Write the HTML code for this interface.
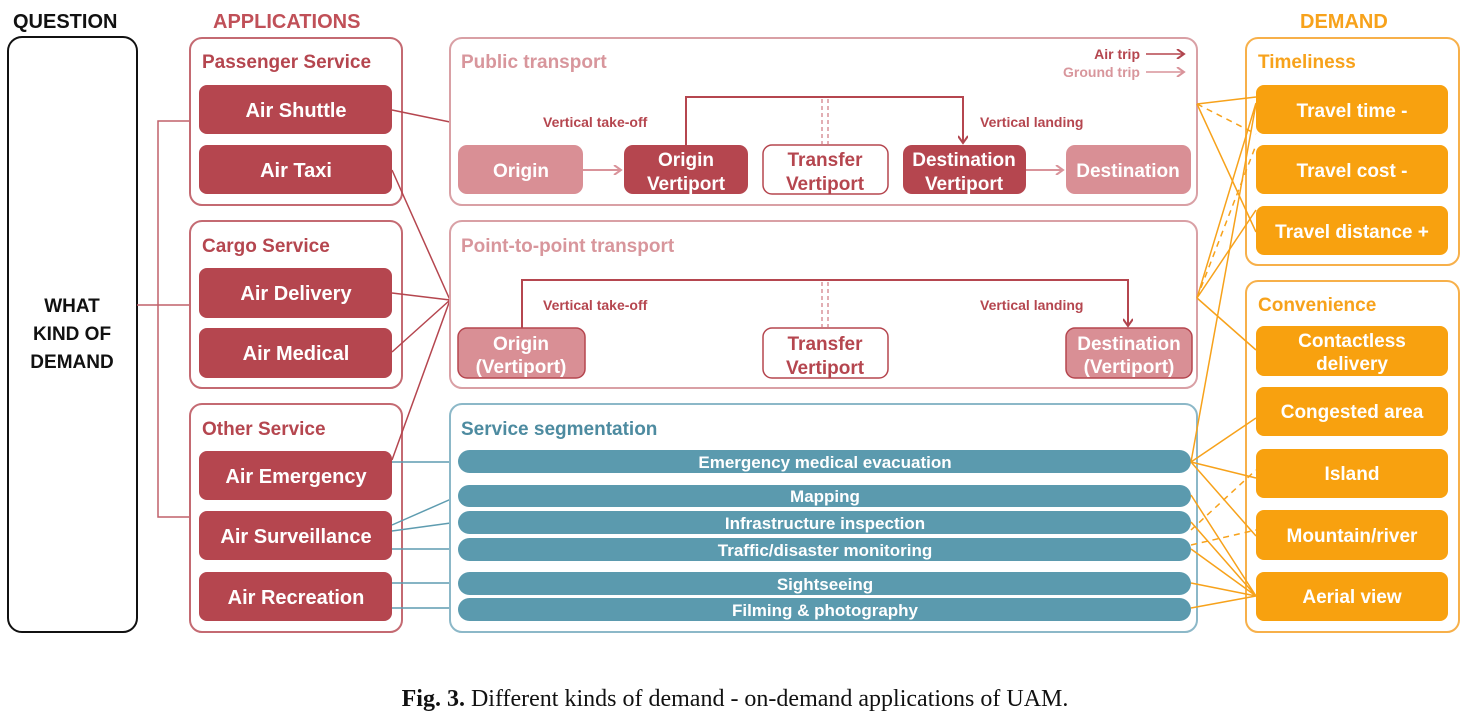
<!DOCTYPE html>
<html><head><meta charset="utf-8"><style>
html,body{margin:0;padding:0;background:#fff;}
svg{display:block;}
text{font-family:"Liberation Sans",sans-serif;font-weight:bold;}
</style></head><body>
<svg width="1471" height="720" viewBox="0 0 1471 720" xmlns="http://www.w3.org/2000/svg">
<defs>
<marker id="ad" markerWidth="10" markerHeight="10" refX="8" refY="5" orient="auto" markerUnits="userSpaceOnUse"><path d="M1,0 L8,5 L1,10" fill="none" stroke="#b0454e" stroke-width="2"/></marker>
<marker id="al" markerWidth="10" markerHeight="10" refX="8" refY="5" orient="auto" markerUnits="userSpaceOnUse"><path d="M1,0 L8,5 L1,10" fill="none" stroke="#d9939a" stroke-width="2"/></marker>
</defs>
<!-- headers -->
<text x="13" y="28" font-size="20" fill="#111">QUESTION</text>
<text x="213" y="28" font-size="20" fill="#c05058">APPLICATIONS</text>
<text x="1300" y="28" font-size="20" fill="#f7a21b">DEMAND</text>

<!-- question box -->
<rect x="8" y="37" width="129" height="595" rx="14" fill="#fff" stroke="#111" stroke-width="2"/>
<text x="72" y="312" font-size="19" fill="#111" text-anchor="middle">WHAT</text>
<text x="72" y="340" font-size="19" fill="#111" text-anchor="middle">KIND OF</text>
<text x="72" y="368" font-size="19" fill="#111" text-anchor="middle">DEMAND</text>

<!-- bracket -->
<g stroke="#c0606a" stroke-width="1.5" fill="none">
<path d="M190,121 H158 V517 H190 M137,305 H190"/>
</g>

<!-- application boxes -->
<g fill="#fff" stroke="#c46a72" stroke-width="2">
<rect x="190" y="38" width="212" height="167" rx="12"/>
<rect x="190" y="221" width="212" height="167" rx="12"/>
<rect x="190" y="404" width="212" height="228" rx="12"/>
</g>
<g font-size="19" fill="#b5464f">
<text x="202" y="68">Passenger Service</text>
<text x="202" y="252">Cargo Service</text>
<text x="202" y="435">Other Service</text>
</g>
<g fill="#b5464f">
<rect x="199" y="85" width="193" height="49" rx="8"/>
<rect x="199" y="145" width="193" height="49" rx="8"/>
<rect x="199" y="268" width="193" height="50" rx="8"/>
<rect x="199" y="328" width="193" height="50" rx="8"/>
<rect x="199" y="451" width="193" height="49" rx="8"/>
<rect x="199" y="511" width="193" height="49" rx="8"/>
<rect x="199" y="572" width="193" height="49" rx="8"/>
</g>
<g font-size="20" fill="#fff" text-anchor="middle">
<text x="296" y="117">Air Shuttle</text>
<text x="296" y="177">Air Taxi</text>
<text x="296" y="300">Air Delivery</text>
<text x="296" y="360">Air Medical</text>
<text x="296" y="483">Air Emergency</text>
<text x="296" y="543">Air Surveillance</text>
<text x="296" y="604">Air Recreation</text>
</g>

<!-- red connectors -->
<g stroke="#b5464f" stroke-width="1.5" fill="none">
<path d="M392,110 L450,122"/>
<path d="M392,170 L450,300 M392,293 L450,300 M392,352 L450,300 M392,460 L450,300"/>
</g>
<!-- teal connectors -->
<g stroke="#5e9cb0" stroke-width="1.5" fill="none">
<path d="M392,462 H458 M392,525 L458,496 M392,531 L458,522 M392,549 H458 M392,583 H458 M392,608 H458"/>
</g>

<!-- public transport -->
<rect x="450" y="38" width="747" height="167" rx="12" fill="#fff" stroke="#d9a0a5" stroke-width="2"/>
<text x="461" y="68" font-size="19" fill="#d8969c">Public transport</text>
<text x="1140" y="59" font-size="14" fill="#b5464f" text-anchor="end">Air trip</text>
<text x="1140" y="77" font-size="14" fill="#d8969c" text-anchor="end">Ground trip</text>
<path d="M1146,54 H1184" stroke="#b5464f" stroke-width="1.5" marker-end="url(#ad)"/>
<path d="M1146,72 H1184" stroke="#d9939a" stroke-width="1.5" marker-end="url(#al)"/>

<rect x="458" y="145" width="125" height="49" rx="9" fill="#d98f95"/>
<rect x="624" y="145" width="124" height="49" rx="9" fill="#b5464f"/>
<rect x="763" y="145" width="125" height="49" rx="9" fill="#fff" stroke="#b5464f" stroke-width="1.5"/>
<rect x="903" y="145" width="123" height="49" rx="9" fill="#b5464f"/>
<rect x="1066" y="145" width="125" height="49" rx="9" fill="#d98f95"/>
<g font-size="19" text-anchor="middle">
<text x="521" y="177" fill="#fff">Origin</text>
<text x="686" y="166" fill="#fff">Origin</text><text x="686" y="190" fill="#fff">Vertiport</text>
<text x="825" y="166" fill="#b5464f">Transfer</text><text x="825" y="190" fill="#b5464f">Vertiport</text>
<text x="964" y="166" fill="#fff">Destination</text><text x="964" y="190" fill="#fff">Vertiport</text>
<text x="1128" y="177" fill="#fff">Destination</text>
</g>
<path d="M583,170 H621" stroke="#d9939a" stroke-width="2" marker-end="url(#al)"/>
<path d="M1026,170 H1063" stroke="#d9939a" stroke-width="2" marker-end="url(#al)"/>
<path d="M686,145 V97 H963 V143" stroke="#b5464f" stroke-width="2" fill="none" marker-end="url(#ad)"/>
<path d="M822,99 V144 M828,99 V144" stroke="#d9939a" stroke-width="1.5" stroke-dasharray="4,3"/>
<g font-size="14" fill="#b5464f">
<text x="543" y="127">Vertical take-off</text>
<text x="980" y="127">Vertical landing</text>
</g>

<!-- point to point -->
<rect x="450" y="221" width="747" height="167" rx="12" fill="#fff" stroke="#d9a0a5" stroke-width="2"/>
<text x="461" y="252" font-size="19" fill="#d8969c">Point-to-point transport</text>
<rect x="458" y="328" width="127" height="50" rx="9" fill="#d98f95" stroke="#b5464f" stroke-width="1.5"/>
<rect x="763" y="328" width="125" height="50" rx="9" fill="#fff" stroke="#b5464f" stroke-width="1.5"/>
<rect x="1066" y="328" width="126" height="50" rx="9" fill="#d98f95" stroke="#b5464f" stroke-width="1.5"/>
<g font-size="19" text-anchor="middle">
<text x="521" y="350" fill="#fff">Origin</text><text x="521" y="373" fill="#fff">(Vertiport)</text>
<text x="825" y="350" fill="#b5464f">Transfer</text><text x="825" y="374" fill="#b5464f">Vertiport</text>
<text x="1129" y="350" fill="#fff">Destination</text><text x="1129" y="373" fill="#fff">(Vertiport)</text>
</g>
<path d="M522,328 V280 H1128 V326" stroke="#b5464f" stroke-width="2" fill="none" marker-end="url(#ad)"/>
<path d="M822,282 V327 M828,282 V327" stroke="#d9939a" stroke-width="1.5" stroke-dasharray="4,3"/>
<g font-size="14" fill="#b5464f">
<text x="543" y="310">Vertical take-off</text>
<text x="980" y="310">Vertical landing</text>
</g>

<!-- service segmentation -->
<rect x="450" y="404" width="747" height="228" rx="12" fill="#fff" stroke="#8cb8c8" stroke-width="2"/>
<text x="461" y="435" font-size="19" fill="#4d8ba0">Service segmentation</text>
<g fill="#5b9aae">
<rect x="458" y="450" width="733" height="23" rx="11.5"/>
<rect x="458" y="485" width="733" height="22" rx="11"/>
<rect x="458" y="511" width="733" height="23" rx="11.5"/>
<rect x="458" y="538" width="733" height="23" rx="11.5"/>
<rect x="458" y="572" width="733" height="23" rx="11.5"/>
<rect x="458" y="598" width="733" height="23" rx="11.5"/>
</g>
<g font-size="17" fill="#fff" text-anchor="middle">
<text x="825" y="468">Emergency medical evacuation</text>
<text x="825" y="502">Mapping</text>
<text x="825" y="529">Infrastructure inspection</text>
<text x="825" y="556">Traffic/disaster monitoring</text>
<text x="825" y="590">Sightseeing</text>
<text x="825" y="616">Filming &amp; photography</text>
</g>

<!-- demand -->
<g fill="#fff" stroke="#f7b04a" stroke-width="2">
<rect x="1246" y="38" width="213" height="227" rx="12"/>
<rect x="1246" y="281" width="213" height="351" rx="12"/>
</g>
<text x="1258" y="68" font-size="19" fill="#f7a21b">Timeliness</text>
<text x="1258" y="311" font-size="19" fill="#f7a21b">Convenience</text>
<g fill="#f8a10f">
<rect x="1256" y="85" width="192" height="49" rx="8"/>
<rect x="1256" y="145" width="192" height="49" rx="8"/>
<rect x="1256" y="206" width="192" height="49" rx="8"/>
<rect x="1256" y="326" width="192" height="50" rx="8"/>
<rect x="1256" y="387" width="192" height="49" rx="8"/>
<rect x="1256" y="449" width="192" height="49" rx="8"/>
<rect x="1256" y="510" width="192" height="50" rx="8"/>
<rect x="1256" y="572" width="192" height="49" rx="8"/>
</g>
<g font-size="19" fill="#fff" text-anchor="middle">
<text x="1352" y="117">Travel time -</text>
<text x="1352" y="177">Travel cost -</text>
<text x="1352" y="238">Travel distance +</text>
<text x="1352" y="347">Contactless</text><text x="1352" y="370">delivery</text>
<text x="1352" y="418">Congested area</text>
<text x="1352" y="480">Island</text>
<text x="1352" y="542">Mountain/river</text>
<text x="1352" y="603">Aerial view</text>
</g>

<!-- orange connectors -->
<g stroke="#f7a21b" stroke-width="1.5" fill="none">
<path d="M1197,104 L1256,97 M1197,104 L1256,232"/>
<path d="M1197,298 L1256,103 M1197,298 L1256,210 M1197,298 L1256,350"/>
<path d="M1191,462 L1256,104 M1191,462 L1256,418 M1191,462 L1256,478 M1191,462 L1256,536"/>
<path d="M1191,495 L1256,596 M1191,549 L1256,596 M1191,583 L1256,596 M1191,608 L1256,596 M1191,522 L1256,596"/>
</g>
<g stroke="#f7a21b" stroke-width="1.5" fill="none" stroke-dasharray="6,5">
<path d="M1197,104 L1256,134 M1197,298 L1256,145 M1191,530 L1256,470 M1191,545 L1256,530"/>
</g>

<!-- caption -->
<text x="735" y="706" font-size="24" text-anchor="middle" style="font-family:'Liberation Serif',serif;font-weight:normal" fill="#111"><tspan font-weight="bold">Fig. 3.</tspan>  Different kinds of demand - on-demand applications of UAM.</text>
</svg>
</body></html>
